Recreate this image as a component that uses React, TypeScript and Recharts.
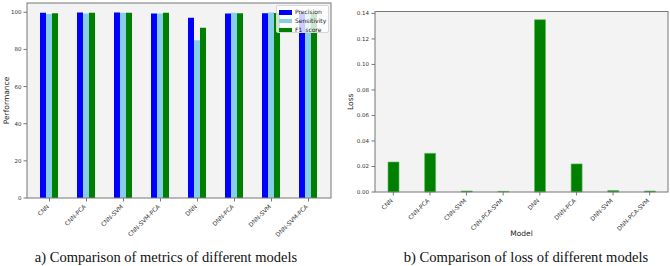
import React from 'react';
import { BarChart, Bar, XAxis, YAxis, CartesianGrid, Legend } from 'recharts';

// ---------- data: left chart ----------
const models = ['CNN', 'CNN-PCA', 'CNN-SVM', 'CNN-SVM-PCA', 'DNN', 'DNN-PCA', 'DNN-SVM', 'DNN-SVM-PCA'];
const precision = [99.7, 99.9, 99.9, 99.3, 97.0, 99.3, 99.5, 99.6];
const sensitivity = [99.1, 99.3, 99.7, 99.3, 85.0, 99.8, 99.9, 99.6];
const f1Score = [99.5, 99.7, 99.7, 99.7, 91.7, 99.5, 99.6, 99.5];
const seriesNames = ['Precision', 'Sensitivity', 'F1_score'];
const performanceTicks = [0, 20, 40, 60, 80, 100];

// ---------- data: right chart ----------
const lossModels = ['CNN', 'CNN-PCA', 'CNN-SVM', 'CNN-PCA-SVM', 'DNN', 'DNN-PCA', 'DNN-SVM', 'DNN-PCA-SVM'];
const lossValues = [0.0235, 0.0303, 0.0008, 0.0005, 0.1351, 0.022, 0.0012, 0.0008];
const lossTicks = [0, 0.02, 0.04, 0.06, 0.08, 0.1, 0.12, 0.14];

const perfData = models.map((m, i) => ({
  model: m,
  Precision: precision[i],
  Sensitivity: sensitivity[i],
  F1_score: f1Score[i],
}));
const lossData = lossModels.map((m, i) => ({ model: m, Loss: lossValues[i] }));

const SANS = 'DejaVu Sans, sans-serif';
const SERIF = '"Liberation Serif", "Times New Roman", serif';
const TICK_COLOR = '#333';
const SPINE = '#777';
const PLOT_BG = '#f3f3f3';

const RotTick = (props: any) => {
  const { x, y, payload } = props;
  const ax = x - 1.5;
  const ay = y + 2;
  return (
    <text
      x={ax}
      y={ay}
      transform={`rotate(-45, ${ax}, ${ay})`}
      textAnchor="end"
      dy="0.35em"
      fontSize={6}
      fill={TICK_COLOR}
      fontFamily={SANS}
    >
      {payload.value}
    </text>
  );
};

const PerfLegend = (props: any) => {
  const items = [...(props.payload || [])].sort(
    (a: any, b: any) => seriesNames.indexOf(a.value) - seriesNames.indexOf(b.value)
  );
  return (
    <div
      style={{
        boxSizing: 'border-box',
        width: 53,
        height: 28,
        background: 'rgba(255,255,255,0.8)',
        border: '1px solid #d6d6d6',
        borderRadius: 2,
        padding: '2px 0 0 2px',
        fontFamily: SANS,
        fontSize: 6,
        color: '#222',
      }}
    >
      {items.map((p: any) => (
        <div key={p.value} style={{ display: 'flex', alignItems: 'center', height: 8.8 }}>
          <span style={{ display: 'inline-block', width: 13, height: 4.5, background: p.color, marginRight: 3 }} />
          <span style={{ lineHeight: '8px', whiteSpace: 'nowrap' }}>{p.value}</span>
        </div>
      ))}
    </div>
  );
};

const App = () => {
  return (
    <div style={{ position: 'absolute', left: 0, top: 0, width: 670, height: 266, background: '#fff' }}>
      <div style={{ position: 'absolute', left: 0, top: 0 }}>
        <BarChart
          width={335}
          height={266}
          data={perfData}
          margin={{ top: 3, right: 4, left: 0, bottom: 0 }}
          barGap={0}
          barCategoryGap={9}
        >
          <CartesianGrid horizontal={false} vertical={false} fill={PLOT_BG} stroke="none" />
          <XAxis
            dataKey="model"
            height={68}
            interval={0}
            padding={{ left: 4, right: 4 }}
            axisLine={false}
            tickLine={{ stroke: SPINE }}
            tickSize={3.5}
            tick={<RotTick />}
          />
          <YAxis
            width={27}
            domain={[0, 105]}
            ticks={performanceTicks}
            axisLine={false}
            tickLine={{ stroke: SPINE }}
            tickSize={3.5}
            tickMargin={2}
            tick={{ fontSize: 5.5, fill: TICK_COLOR, fontFamily: SANS }}
            label={{
              content: (p: any) => {
                const vb = p.viewBox || {};
                const cy = (vb.y ?? 3) + (vb.height ?? 195) / 2;
                return (
                  <text
                    x={6.3}
                    y={cy}
                    transform={`rotate(-90, 6.3, ${cy})`}
                    textAnchor="middle"
                    dominantBaseline="central"
                    fontSize={7.5}
                    fill="#222"
                    fontFamily={SANS}
                  >
                    Performance
                  </text>
                );
              },
            }}
          />
          <Legend
            layout="vertical"
            align="center"
            verticalAlign="middle"
            wrapperStyle={{ left: 276, top: 5, width: 53, height: 28 }}
            content={<PerfLegend />}
          />
          <Bar dataKey="Precision" name="Precision" fill="#0000ff" isAnimationActive={false} />
          <Bar dataKey="Sensitivity" name="Sensitivity" fill="#87ceeb" isAnimationActive={false} />
          <Bar dataKey="F1_score" name="F1_score" fill="#008000" isAnimationActive={false} />
        </BarChart>
      </div>

      <div style={{ position: 'absolute', left: 335, top: 0 }}>
        <BarChart
          width={335}
          height={266}
          data={lossData}
          margin={{ top: 11.5, right: 2, left: 0, bottom: 0 }}
        >
          <CartesianGrid horizontal={false} vertical={false} fill={PLOT_BG} stroke="none" />
          <XAxis
            dataKey="model"
            height={74}
            interval={0}
            axisLine={false}
            tickLine={{ stroke: SPINE }}
            tickSize={3.5}
            tick={<RotTick />}
            label={{
              content: (p: any) => {
                const vb = p.viewBox || {};
                const cx = (vb.x ?? 40) + (vb.width ?? 293) / 2;
                const by = (vb.y ?? 192) + 43.7;
                return (
                  <text x={cx} y={by} textAnchor="middle" fontSize={7.5} fill="#222" fontFamily={SANS}>
                    Model
                  </text>
                );
              },
            }}
          />
          <YAxis
            width={40}
            domain={[0, 0.1415]}
            ticks={lossTicks}
            axisLine={false}
            tickLine={{ stroke: SPINE }}
            tickSize={3.5}
            tickMargin={2.5}
            tickFormatter={(v: number) => v.toFixed(2)}
            tick={{ fontSize: 5.5, fill: TICK_COLOR, fontFamily: SANS }}
            label={{
              content: (p: any) => {
                const vb = p.viewBox || {};
                const cy = (vb.y ?? 11.5) + (vb.height ?? 180.5) / 2;
                return (
                  <text
                    x={15.3}
                    y={cy}
                    transform={`rotate(-90, 15.3, ${cy})`}
                    textAnchor="middle"
                    dominantBaseline="central"
                    fontSize={7.5}
                    fill="#222"
                    fontFamily={SANS}
                  >
                    Loss
                  </text>
                );
              },
            }}
          />
          <Bar
            dataKey="Loss"
            name="Loss"
            fill="#008000"
            stroke="#5cb85c"
            strokeWidth={0.6}
            barSize={11}
            isAnimationActive={false}
          />
        </BarChart>
      </div>

      <svg
        width={670}
        height={266}
        style={{ position: 'absolute', left: 0, top: 0, pointerEvents: 'none' }}
      >
        <rect x={27} y={3} width={304} height={195} fill="none" stroke={SPINE} strokeWidth={1} />
        <rect x={375} y={11.5} width={293} height={180.5} fill="none" stroke={SPINE} strokeWidth={1} />
        <text x={166} y={262} textAnchor="middle" fontSize={14.5} fill="#111" fontFamily={SERIF}>
          a) Comparison of metrics of different models
        </text>
        <text x={526} y={262} textAnchor="middle" fontSize={14.6} fill="#111" fontFamily={SERIF}>
          b) Comparison of loss of different models
        </text>
      </svg>
    </div>
  );
};

export default App;
